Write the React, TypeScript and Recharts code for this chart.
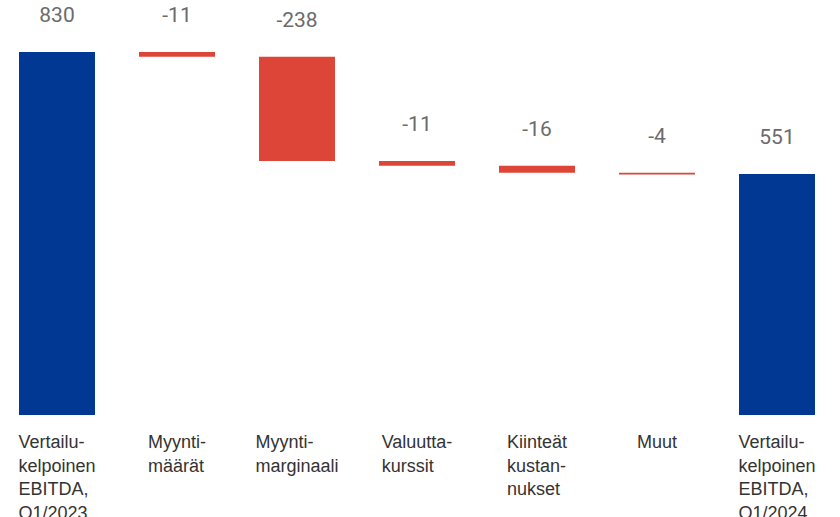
import React from 'react';
import { BarChart, Bar, XAxis, YAxis, Cell, LabelList } from 'recharts';

const categories = [
  ['Vertailu-', 'kelpoinen', 'EBITDA,', 'Q1/2023'],
  ['Myynti-', 'määrät'],
  ['Myynti-', 'marginaali'],
  ['Valuutta-', 'kurssit'],
  ['Kiinteät', 'kustan-', 'nukset'],
  ['Muut'],
  ['Vertailu-', 'kelpoinen', 'EBITDA,', 'Q1/2024'],
];
const changes = [830, -11, -238, -11, -16, -4, 551];
const isTotal = [true, false, false, false, false, false, true];

const BLUE = '#003893';
const RED = '#dc4538';

// waterfall: invisible base + visible part
let running = 0;
const data = changes.map((v, i) => {
  let base;
  let size;
  if (isTotal[i]) {
    base = 0;
    size = v;
    running = v;
  } else {
    running = running + v;
    base = running;
    size = -v;
  }
  return { name: String(i), base, size, delta: v };
});

const AxisTick = (props: any) => {
  const { x, payload } = props;
  const lines = categories[Number(payload.value)];
  return (
    <foreignObject x={x - 60} y={431} width={120} height={100}>
      <div style={{ textAlign: 'center' }}>
        <div
          style={{
            display: 'inline-block',
            textAlign: 'left',
            fontFamily: '"Liberation Sans", Arial, sans-serif',
            fontSize: 18,
            lineHeight: '23.5px',
            color: '#333333',
          }}
        >
          {lines.map((l, k) => (
            <div key={k}>{l}</div>
          ))}
        </div>
      </div>
    </foreignObject>
  );
};

const ValueLabel = (props: any) => {
  const { x, y, width, index } = props;
  return (
    <text
      x={x + width / 2}
      y={y - 37}
      textAnchor="middle"
      dominantBaseline="central"
      fontFamily="Roboto, sans-serif"
      fontSize={21}
      fill="#6b6b6b"
    >
      {changes[index]}
    </text>
  );
};

export default function App() {
  return (
    <div style={{ position: 'absolute', left: 0, top: 0 }}>
      <BarChart
        width={840}
        height={517}
        data={data}
        margin={{ top: 52, right: 3, left: -3, bottom: 0 }}
      >
        <XAxis
          dataKey="name"
          axisLine={false}
          tickLine={false}
          height={102}
          interval={0}
          tick={<AxisTick />}
        />
        <YAxis hide domain={[0, 830]} />
        <Bar dataKey="base" stackId="a" fill="transparent" barSize={76} isAnimationActive={false} />
        <Bar dataKey="size" stackId="a" barSize={76} isAnimationActive={false}>
          {data.map((d, i) => (
            <Cell key={i} fill={isTotal[i] ? BLUE : RED} />
          ))}
          <LabelList dataKey="delta" content={<ValueLabel />} />
        </Bar>
      </BarChart>
    </div>
  );
}
